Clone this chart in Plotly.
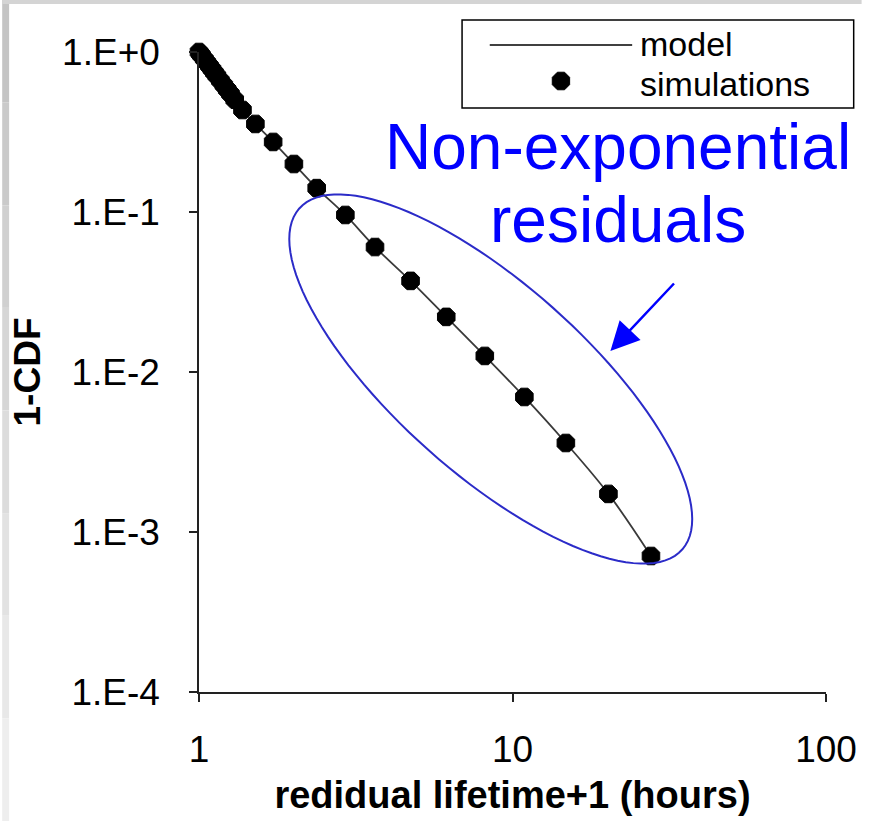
import numpy as np
import plotly.graph_objects as go

# ---------------- data ----------------
sim_x = [1.00, 1.01, 1.02, 1.04, 1.06, 1.08, 1.10, 1.12, 1.14, 1.17, 1.20, 1.23, 1.26, 1.30,
         1.376, 1.513, 1.724, 2.008, 2.374, 2.93, 3.643, 4.73, 6.147, 8.16, 10.91, 14.8, 20.23, 27.65]
sim_y = [1.000, 0.974, 0.950, 0.903, 0.859, 0.818, 0.780, 0.743, 0.710, 0.663, 0.621, 0.582, 0.547, 0.503,
         0.434, 0.355, 0.274, 0.1995, 0.141, 0.0958, 0.0604, 0.0371, 0.0221, 0.0126, 0.00698, 0.0036, 0.00173, 0.000708]

model_x = [1.00, 1.05, 1.10, 1.20, 1.30, 1.376, 1.513, 1.724, 2.008, 2.374, 2.93, 3.643, 4.73, 6.147,
           8.16, 10.91, 14.8, 20.23, 27.65]
model_y = [1.000, 0.880, 0.780, 0.621, 0.503, 0.434, 0.355, 0.274, 0.1995, 0.141, 0.0958, 0.0604, 0.0371, 0.0221,
           0.0126, 0.00698, 0.0036, 0.00173, 0.000708]

x_tickvals = [1, 10, 100]
x_ticktext = ["1", "10", "100"]
y_tickvals = [1e-4, 1e-3, 1e-2, 1e-1, 1e0]
y_ticktext = ["1.E-4", "1.E-3", "1.E-2", "1.E-1", "1.E+0"]

# ---------------- layout geometry ----------------
W, H = 869, 821
L, R, T, B = 199, 36, 52, 129
PW, PH = W - L - R, H - T - B


def px(xp):
    return (xp - L) / PW


def py(yp):
    return (H - B - yp) / PH


FONT = "Liberation Sans, Arial, sans-serif"

fig = go.Figure()

fig.add_trace(go.Scatter(
    x=model_x, y=model_y, mode="lines", name="model",
    line=dict(color="#3a3a3a", width=1.8, shape="spline"),
    showlegend=False, cliponaxis=False,
))
fig.add_trace(go.Scatter(
    x=sim_x, y=sim_y, mode="markers", name="simulations",
    marker=dict(symbol="octagon", size=19, color="black",
                line=dict(color="black", width=1)),
    showlegend=False, cliponaxis=False,
))

shapes = []
# background border (slide-like gray edges)
left_cols = ["#c4c4c4", "#cacaca", "#d0d0d0", "#d6d6d6", "#dcdcdc", "#e2e2e2", "#e8e8e8", "#eeeeee"]
n = len(left_cols)
for i, c in enumerate(left_cols):
    shapes.append(dict(type="rect", xref="paper", yref="paper",
                       x0=px(0), x1=px(7), y0=py(i * H / n), y1=py((i + 1) * H / n),
                       fillcolor=c, line=dict(width=0), layer="below"))
shapes.append(dict(type="rect", xref="paper", yref="paper",
                   x0=px(0), x1=px(W), y0=py(0), y1=py(4),
                   fillcolor="#d4d4d4", line=dict(width=0), layer="below"))

# legend box
shapes.append(dict(type="rect", xref="paper", yref="paper",
                   x0=px(465), x1=px(861), y0=py(20), y1=py(108),
                   fillcolor="white", line=dict(color="black", width=1.5)))
shapes.append(dict(type="line", xref="paper", yref="paper",
                   x0=px(493), x1=px(637), y0=py(45), y1=py(45),
                   line=dict(color="black", width=1.5)))
# legend octagon marker
ang = np.deg2rad(22.5 + 45 * np.arange(8))
mr = 9.5
opath = "M" + " L".join("{:.5f},{:.5f}".format(px(565 + mr * np.cos(q)), py(81 + mr * np.sin(q))) for q in ang) + " Z"
shapes.append(dict(type="path", xref="paper", yref="paper", path=opath,
                   fillcolor="black", line=dict(color="black", width=1)))

# ellipse
cx, cy, a, b, th = 494.0, 379.0, 258.0, 95.0, np.deg2rad(41.3)
t = np.linspace(0, 2 * np.pi, 121)
ex = cx + a * np.cos(th) * np.cos(t) - b * np.sin(th) * np.sin(t)
ey = cy + a * np.sin(th) * np.cos(t) + b * np.cos(th) * np.sin(t)
path = "M" + " L".join("{:.5f},{:.5f}".format(px(u), py(v)) for u, v in zip(ex, ey)) + " Z"
shapes.append(dict(type="path", xref="paper", yref="paper", path=path,
                   line=dict(color="#2b2bc8", width=2)))

annotations = [
    dict(text="model", xref="paper", yref="paper", x=px(644), y=py(64),
         xanchor="left", yanchor="bottom", showarrow=False, borderpad=0,
         font=dict(family=FONT, size=34, color="black")),
    dict(text="simulations", xref="paper", yref="paper", x=px(644), y=py(64),
         xanchor="left", yanchor="top", showarrow=False, borderpad=0,
         font=dict(family=FONT, size=34, color="black")),
    dict(text="Non-exponential", xref="paper", yref="paper", x=px(623), y=py(147),
         xanchor="center", yanchor="middle", showarrow=False,
         font=dict(family=FONT, size=64, color="#0000ff")),
    dict(text="residuals", xref="paper", yref="paper", x=px(623), y=py(220),
         xanchor="center", yanchor="middle", showarrow=False,
         font=dict(family=FONT, size=64, color="#0000ff")),
    dict(text="", xref="paper", yref="paper", x=px(615), y=py(351),
         ax=65, ay=-69, showarrow=True, arrowhead=2, arrowsize=2.3, arrowwidth=2.5,
         arrowcolor="#0000ff"),
]

fig.update_layout(
    width=W, height=H,
    margin=dict(l=L, r=R, t=T, b=B),
    paper_bgcolor="white", plot_bgcolor="white",
    shapes=shapes, annotations=annotations,
    showlegend=False,
    font=dict(family=FONT, color="black"),
)
fig.update_xaxes(
    type="log", range=[0, 2], showgrid=False, zeroline=False,
    showline=True, linecolor="#222222", linewidth=1.5,
    ticks="outside", ticklen=8, tickwidth=1.5, tickcolor="#222222",
    tickvals=x_tickvals, ticktext=x_ticktext,
    tickfont=dict(family=FONT, size=37, color="black"), ticklabelstandoff=16,
    title=dict(text="<b>redidual lifetime+1 (hours)</b>", standoff=12,
               font=dict(family=FONT, size=38, color="black")),
)
fig.update_yaxes(
    type="log", range=[-4, 0], showgrid=False, zeroline=False,
    showline=True, linecolor="#222222", linewidth=1.5,
    ticks="outside", ticklen=8, tickwidth=1.5, tickcolor="#222222",
    tickvals=y_tickvals, ticktext=y_ticktext,
    tickfont=dict(family=FONT, size=37, color="black"), ticklabelstandoff=22,
    title=dict(text="<b>1-CDF</b>", standoff=10,
               font=dict(family=FONT, size=37, color="black")),
)

fig.write_html("out.html")
